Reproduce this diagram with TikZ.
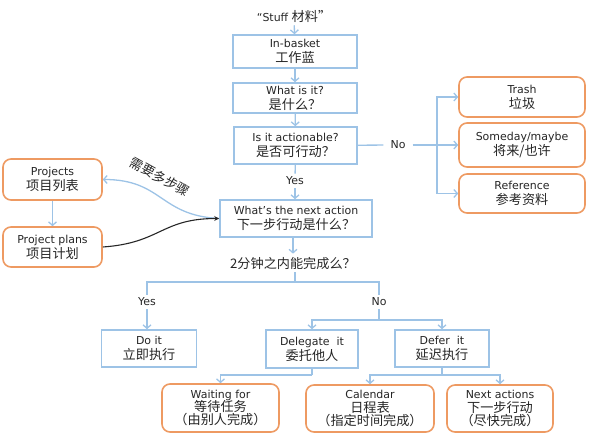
\documentclass[tikz,border=0pt]{standalone}
\usepackage{fontspec}
\setmainfont{DejaVu Sans}
\newfontfamily\cjk{Noto Sans CJK SC}
\usetikzlibrary{arrows.meta}
\newcommand{\zh}[1]{{\cjk\fontsize{13.2}{15}\selectfont #1}}
\definecolor{lblue}{HTML}{9DC3E6}
\definecolor{lorange}{HTML}{EE9A62}
\definecolor{txt}{HTML}{262626}
\tikzset{
  base/.style={align=center, text=txt, font=\fontsize{11}{15}\selectfont, inner sep=0pt},
  bbox/.style={base, draw=lblue, line width=1.6bp, fill=white},
  obox/.style={base, draw=lorange, line width=1.6bp, rounded corners=8bp, fill=white},
  lbl/.style={base, inner xsep=3bp, inner ysep=3bp},
  ln/.style={draw=lblue, line width=1.3bp},
  arr/.style={ln, -{Straight Barb[length=3.5bp,width=8bp]}},
}
\begin{document}
\begin{tikzpicture}[x=1bp,y=-1bp]
\useasboundingbox (0,0) rectangle (592,439);
% top column
\node[lbl] (stuff) at (294,16) {“Stuff \zh{材料”}};
\node[bbox, minimum width=124bp, minimum height=33bp] (inb) at (295,51.5) {In-basket\\\zh{工作蓝}};
\node[bbox, minimum width=124bp, minimum height=30bp] (what) at (295,98) {What is it?\\\zh{是什么？}};
\node[bbox, minimum width=123bp, minimum height=37bp] (act) at (295.5,145.5) {Is it actionable?\\\zh{是否可行动？}};
\node[lbl] (yes1) at (295,181) {Yes};
\node[bbox, minimum width=152bp, minimum height=37bp] (next) at (296,218.5) {What’s the next action\\\zh{下一步行动是什么？}};
\node[lbl] (two) at (293,263) {\zh{2分钟之内能完成么？}};
% right column
\node[lbl, inner xsep=7bp] (no1) at (398,145) {No};
\node[obox, minimum width=126bp, minimum height=40bp] (trash) at (522,97) {Trash\\\zh{垃圾}};
\node[obox, minimum width=126bp, minimum height=44bp] (some) at (522,145) {Someday/maybe\\\zh{将来/也许}};
\node[obox, minimum width=126bp, minimum height=39bp] (ref) at (522,193.5) {Reference\\\zh{参考资料}};
% left column
\node[obox, minimum width=99bp, minimum height=41bp] (proj) at (52.5,179.5) {Projects\\\zh{项目列表}};
\node[obox, minimum width=99bp, minimum height=40bp] (plans) at (52.5,247) {Project plans\\\zh{项目计划}};
\node[base, text=txt, rotate=-29] (multi) at (160,177) {\zh{需要多步骤}};
% bottom
\node[lbl] (yes2) at (147,302) {Yes};
\node[lbl] (no2) at (379,302) {No};
\node[bbox, minimum width=95bp, minimum height=37bp] (doit) at (149,348.5) {Do it\\\zh{立即执行}};
\node[bbox, minimum width=92bp, minimum height=38bp] (deleg) at (312,349) {Delegate\ \ it\\\zh{委托他人}};
\node[bbox, minimum width=94bp, minimum height=37bp] (defer) at (442,348.5) {Defer\ \ it\\\zh{延迟执行}};
\node[obox, minimum width=117bp, minimum height=48bp, font=\fontsize{11}{13.5}\selectfont] (wait) at (220.5,408) {Waiting for\\\zh{等待任务}\\\zh{（由别人完成）}};
\node[obox, minimum width=128bp, minimum height=47bp, font=\fontsize{11}{13.5}\selectfont] (cal) at (370,408.5) {Calendar\\\zh{日程表}\\\zh{（指定时间完成）}};
\node[obox, minimum width=106bp, minimum height=47bp, font=\fontsize{11}{13.5}\selectfont] (nact) at (500,408.5) {Next actions\\\zh{下一步行动}\\\zh{（尽快完成）}};
% junctions
\coordinate (j1) at (437,145);
\coordinate (b1) at (295,282);
\coordinate (b2) at (379,320);
\coordinate (b3) at (312,375);
\coordinate (b4) at (442,375);
% connectors
\draw[arr] (stuff) -- (inb);
\draw[arr] (inb) -- (what);
\draw[arr] (what) -- (act);
\draw[ln] (act) -- (yes1);
\draw[arr] (yes1) -- (next.north -| yes1);
\draw[ln] (act) -- (no1);
\draw[ln] (no1) -- (j1);
\draw[arr] (j1) |- (trash.west);
\draw[arr] (j1) -- (some.west);
\draw[arr] (j1) |- (ref.west);
\draw[arr] (next.south -| two) -- (two);
\draw[ln] (two.south -| b1) -- (b1);
\draw[ln] (b1) -| (yes2);
\draw[ln] (b1) -| (no2);
\draw[arr] (yes2) -- (doit.north -| yes2);
\draw[ln] (no2) -- (b2);
\draw[arr] (b2) -| (deleg.north);
\draw[arr] (b2) -| (defer.north);
\draw[ln] (deleg) -- (b3);
\draw[arr] (b3) -| (wait.north);
\draw[ln] (defer) -- (b4);
\draw[arr] (b4) -| (cal.north);
\draw[arr] (b4) -| (nact.north);
\draw[arr] (proj) -- (plans);
\draw[arr] (next.west) .. controls +(-60,-3) and +(60,0) .. (proj.east);
\draw[txt, line width=1.1bp, -{Stealth[length=5bp,width=5bp]}] (plans.east) .. controls +(58,-4) and +(-58,0) .. (next.west);
\end{tikzpicture}
\end{document}
